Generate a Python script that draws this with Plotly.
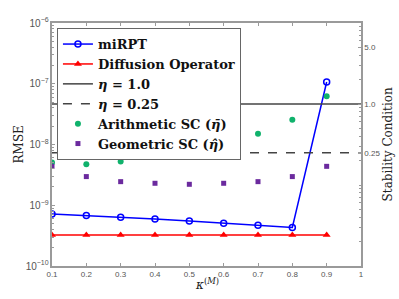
import plotly.graph_objects as go

kappa = [0.1, 0.2, 0.3, 0.4, 0.5, 0.6, 0.7, 0.8, 0.9]
rmse_mirpt = [7.2e-10, 6.8e-10, 6.35e-10, 5.95e-10, 5.5e-10, 5.05e-10, 4.7e-10, 4.3e-10, 1.07e-7]
rmse_diffusion = [3.25e-10] * 9
arith_sc = [0.19, 0.18, 0.195, 0.225, 0.26, 0.32, 0.43, 0.64, 1.25]
geom_sc = [0.17, 0.127, 0.11, 0.105, 0.102, 0.105, 0.11, 0.127, 0.17]
eta_x = [0.1, 1.0]
eta_1 = [1.0, 1.0]
eta_025 = [0.25, 0.25]
x_ticks = [0.1, 0.2, 0.3, 0.4, 0.5, 0.6, 0.7, 0.8, 0.9, 1.0]
x_ticklabels = ["0.1", "0.2", "0.3", "0.4", "0.5", "0.6", "0.7", "0.8", "0.9", "1"]
y2_ticks = [0.25, 1.0, 5.0]
y2_ticklabels = ["0.25", "1.0", "5.0"]

blue = "#0000FF"
red = "#FF0000"
green = "#10B26C"
purple = "#6B2A9E"
dark = "#444444"
axis_col = "#9a9a9a"

fig = go.Figure()
fig.add_trace(go.Scatter(x=kappa, y=rmse_mirpt, name="miRPT", mode="lines+markers",
                         line=dict(color=blue, width=1.5),
                         marker=dict(symbol="circle-open", size=6, color=blue, line=dict(width=1.5))))
fig.add_trace(go.Scatter(x=kappa, y=rmse_diffusion, name="Diffusion Operator", mode="lines+markers",
                         line=dict(color=red, width=1.5),
                         marker=dict(symbol="triangle-up", size=7, color=red)))
fig.add_trace(go.Scatter(x=eta_x, y=eta_1, name="<i>η</i> = 1.0", mode="lines", yaxis="y2",
                         line=dict(color=dark, width=1.5)))
fig.add_trace(go.Scatter(x=eta_x, y=eta_025, name="<i>η</i> = 0.25", mode="lines", yaxis="y2",
                         line=dict(color=dark, width=1.5, dash="dash")))
fig.add_trace(go.Scatter(x=kappa, y=arith_sc, name="Arithmetic SC (<i>η̄</i>)", mode="markers", yaxis="y2",
                         marker=dict(symbol="circle", size=6, color=green)))
fig.add_trace(go.Scatter(x=kappa, y=geom_sc, name="Geometric SC (<i>η̂</i>)", mode="markers", yaxis="y2",
                         marker=dict(symbol="square", size=5, color=purple)))

tick_font = dict(family="Liberation Sans, Arial, sans-serif", size=8, color="#555555")
title_font = dict(family="DejaVu Serif, serif", size=12, color="#222222")

fig.update_layout(
    template="none",
    width=399, height=299,
    margin=dict(l=52, r=38, t=23, b=33, autoexpand=False),
    paper_bgcolor="white", plot_bgcolor="white",
    showlegend=True,
    legend=dict(x=0.016, y=0.979, xanchor="left", yanchor="top",
                bgcolor="white", bordercolor="#666666", borderwidth=1,
                font=dict(family="DejaVu Serif, serif", size=13, color="#111111", weight="bold"),
                tracegroupgap=0, itemwidth=30),
    xaxis=dict(range=[0.1, 1.0], tickvals=x_ticks, ticktext=x_ticklabels, automargin=False,
               ticks="inside", ticklen=3, tickcolor=axis_col, showline=True, linecolor=axis_col, linewidth=1.5,
               mirror="ticks", showgrid=False, zeroline=False, tickfont=tick_font),
    yaxis=dict(type="log", range=[-10, -6], dtick=1, exponentformat="power", automargin=False,
               ticks="inside", ticklen=3, tickcolor=axis_col, showline=True, linecolor=axis_col, linewidth=1.5,
               showgrid=False, zeroline=False, tickfont=tick_font,
               minor=dict(ticks="inside", ticklen=2, tickcolor=axis_col, showgrid=False)),
    yaxis2=dict(type="log", range=[-2, 1], overlaying="y", side="right", automargin=False,
                tickvals=y2_ticks, ticktext=y2_ticklabels,
                ticks="inside", ticklen=3, tickcolor=axis_col, showline=True, linecolor=axis_col, linewidth=1.5,
                showgrid=False, zeroline=False, tickfont=tick_font,
                minor=dict(ticks="inside", ticklen=2, tickcolor=axis_col, showgrid=False,
                           tickvals=[0.02,0.03,0.04,0.05,0.06,0.07,0.08,0.09,0.1,0.2,0.3,0.4,0.5,0.6,0.7,0.8,0.9,2,3,4,6,7,8,9])),
    annotations=[
        dict(text="RMSE", xref="paper", yref="paper", x=-0.107, y=0.5, textangle=-90,
             showarrow=False, font=title_font, xanchor="center", yanchor="middle"),
        dict(text="Stability Condition", xref="paper", yref="paper", x=1.087, y=0.5, textangle=-90,
             showarrow=False, font=title_font, xanchor="center", yanchor="middle"),
        dict(text="<i>κ</i><sup>(<i>M</i>)</sup>", xref="paper", yref="paper", x=0.5, y=-0.075,
             showarrow=False, font=title_font, xanchor="center", yanchor="middle"),
    ],
)

fig.write_html("out.html", config={"displayModeBar": False},
               post_script="document.body.style.margin='0';document.body.style.overflow='hidden';")
